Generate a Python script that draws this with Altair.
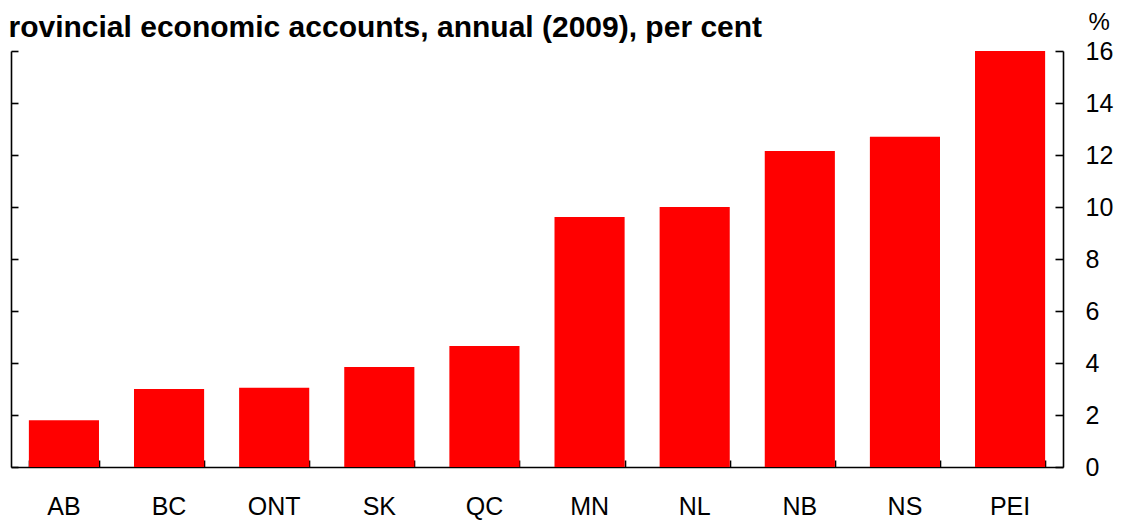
import altair as alt
import pandas as pd

provinces = ["AB", "BC", "ONT", "SK", "QC", "MN", "NL", "NB", "NS", "PEI"]
values = [1.8, 3.0, 3.05, 3.85, 4.65, 9.62, 10.0, 12.15, 12.7, 16.0]
y_ticks = [0, 2, 4, 6, 8, 10, 12, 14, 16]
title_text = "rovincial economic accounts, annual (2009), per cent"
unit_label = "%"

df = pd.DataFrame({"province": provinces, "value": values})

FONT = "Liberation Sans"
LABEL_SIZE = 25
xscale = alt.Scale(paddingInner=0.333, paddingOuter=0.17)
yscale = alt.Scale(domain=[0, 16], nice=False, zero=True)


def xenc(axis):
    return alt.X("province:N", sort=provinces, scale=xscale, axis=axis, title="")


def yenc(axis):
    return alt.Y("value:Q", scale=yscale, axis=axis, title="")


common = dict(grid=False, domainColor="black", tickColor="black",
              domainWidth=1.6, tickWidth=1.6, labelColor="black",
              labelFont=FONT, labelFontSize=LABEL_SIZE)

x_main = alt.Axis(orient="bottom", domain=True, ticks=False, tickSize=0,
                  labels=True, labelPadding=27, labelAngle=0, **common)
x_ticks = alt.Axis(orient="bottom", domain=False, ticks=True, tickSize=7,
                   offset=-7, labels=False, tickBand="extent", **common)
y_right = alt.Axis(orient="right", domain=True, ticks=False, tickSize=0,
                   labels=True, labelPadding=22, values=y_ticks,
                   title=unit_label, titleAngle=0, titleX=25, titleY=-29,
                   titleAlign="left", titleBaseline="middle", titleFont=FONT,
                   titleFontSize=24, titleFontWeight="normal",
                   titleColor="black", **common)
y_right_ticks = alt.Axis(orient="right", domain=False, ticks=True, tickSize=8,
                         offset=-8, labels=False, values=y_ticks, **common)
y_left = alt.Axis(orient="left", domain=True, ticks=False, tickSize=0,
                  labels=False, values=y_ticks,
                  title=title_text, titleAngle=0, titleX=-3, titleY=-15,
                  titleAlign="left", titleBaseline="alphabetic", titleFont=FONT,
                  titleFontSize=30, titleFontWeight="bold", titleColor="black",
                  **common)
y_left_ticks = alt.Axis(orient="left", domain=False, ticks=True, tickSize=7,
                        offset=-7, labels=False, values=y_ticks, **common)

base = alt.Chart(df)

bars = base.mark_bar(color="#FF0000").encode(x=xenc(x_main), y=yenc(y_right))
l2 = base.mark_bar(opacity=0).encode(x=xenc(x_ticks), y=yenc(y_right_ticks))
l3 = base.mark_bar(opacity=0).encode(x=xenc(None), y=yenc(y_left))
l4 = base.mark_bar(opacity=0).encode(x=xenc(None), y=yenc(y_left_ticks))

chart = (
    alt.layer(bars, l2, l3, l4)
    .resolve_axis(x="independent", y="independent")
    .properties(
        width=1052,
        height=416,
        autosize=alt.AutoSizeParams(type="none"),
        padding={"left": 3, "top": 43, "right": 52, "bottom": 53},
    )
    .configure_view(strokeWidth=0)
)

chart.save("out.html", embed_options={"renderer": "svg", "actions": False})
